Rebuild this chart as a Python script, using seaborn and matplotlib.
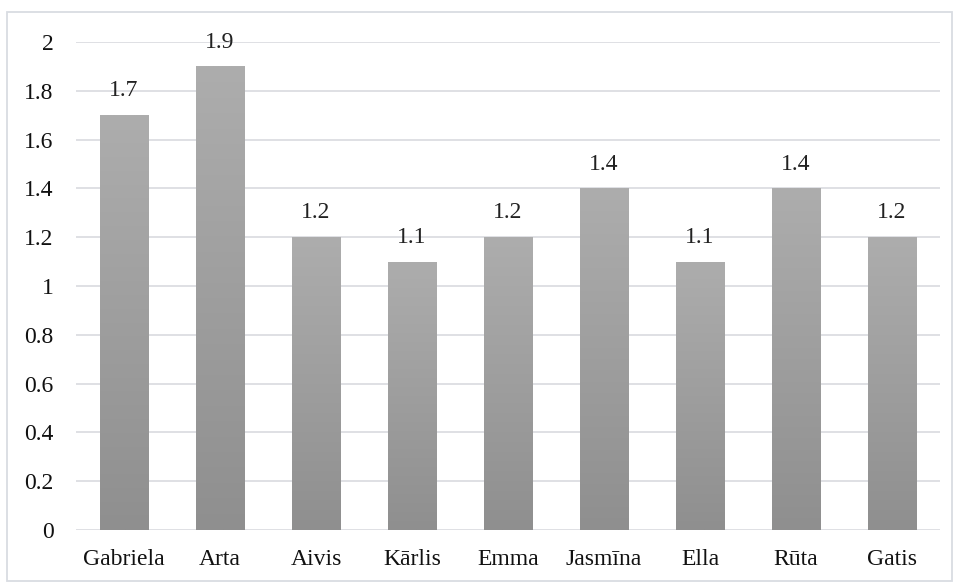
import numpy as np
import pandas as pd
import matplotlib
matplotlib.use("Agg")
import matplotlib.pyplot as plt
from matplotlib.patches import Rectangle
from matplotlib.colors import LinearSegmentedColormap
import seaborn as sns

names = ["Gabriela", "Arta", "Aivis", "Kārlis", "Emma", "Jasmīna", "Ella", "Rūta", "Gatis"]
values = [1.7, 1.9, 1.2, 1.1, 1.2, 1.4, 1.1, 1.4, 1.2]
y_ticks = [0, 0.2, 0.4, 0.6, 0.8, 1, 1.2, 1.4, 1.6, 1.8, 2]

df = pd.DataFrame({"name": names, "value": values})

sns.set_theme(style="white")
plt.rcParams["font.family"] = ["Liberation Serif", "DejaVu Serif"]

fig = plt.figure(figsize=(9.55, 5.84), dpi=100)
ax = fig.add_axes([76 / 955, 1 - 530 / 584, 864 / 955, 488 / 584])

sns.barplot(data=df, x="name", y="value", color="#a0a0a0", width=0.51,
            saturation=1, ax=ax, zorder=2)

# vertical gradient inside each bar
grad_cmap = LinearSegmentedColormap.from_list("bar_grad", ["#8f8f8f", "#adadad"])
grad = np.linspace(0, 1, 256).reshape(-1, 1)
for bar in ax.patches:
    x0, w, h = bar.get_x(), bar.get_width(), bar.get_height()
    im = ax.imshow(grad, cmap=grad_cmap, aspect="auto", origin="lower",
                   extent=[x0, x0 + w, 0, h], zorder=3, interpolation="bilinear")
    im.set_clip_path(bar)
    bar.set_edgecolor("none")

for i, v in enumerate(values):
    ax.text(i, v + 0.1, f"{v:g}", ha="center", va="center", fontsize=17,
            color="#222222", zorder=4)

ax.set_xlim(-0.5, len(names) - 0.5)
ax.set_ylim(0, 2)
ax.set_yticks(y_ticks)
ax.set_yticklabels([f"{t:g}" for t in y_ticks])
ax.yaxis.grid(True, color="#dcdde2", linewidth=1.3, zorder=0)
ax.set_axisbelow(True)
for s in ax.spines.values():
    s.set_visible(False)
ax.tick_params(axis="both", length=0, labelsize=17, labelcolor="#111111")
ax.tick_params(axis="y", pad=16)
ax.tick_params(axis="x", pad=14)
ax.set_xlabel("")
ax.set_ylabel("")

# outer chart border
fig.patches.append(Rectangle((7 / 955, 3 / 584), 945 / 955, 569 / 584,
                             transform=fig.transFigure, fill=False,
                             edgecolor="#d9dce2", linewidth=1.3))

fig.savefig("out.png", dpi=100, facecolor="white")
